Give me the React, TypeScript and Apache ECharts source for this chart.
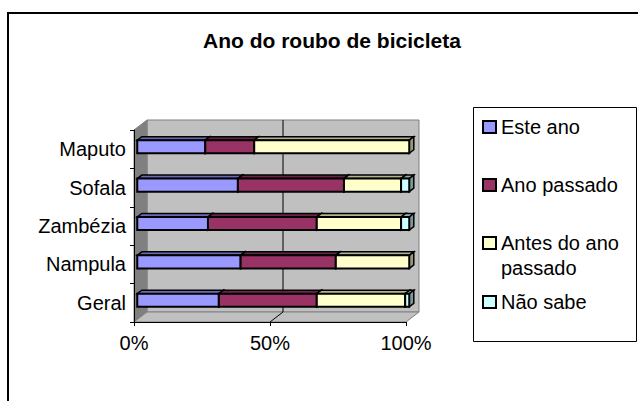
import React, { useEffect, useRef } from "react";
import * as echarts from "echarts";

const categories = ["Maputo", "Sofala", "Zambézia", "Nampula", "Geral"];
const seriesNames = ["Este ano", "Ano passado", "Antes do ano passado", "Não sabe"];
const esteAno = [25, 37, 26, 38, 30];
const anoPassado = [18, 39, 40, 35, 36];
const antesDoAnoPassado = [57, 21, 31, 27, 32.5];
const naoSabe = [0, 3, 3, 0, 1.5];
const xTicks = [0, 50, 100];

const seriesValues = [esteAno, anoPassado, antesDoAnoPassado, naoSabe];
const colors = ["#9999FF", "#993366", "#FFFFCC", "#CCFFFF"];
const FONT = "'Liberation Sans', Arial, sans-serif";

function shade(hex: string, f: number) {
  const n = parseInt(hex.slice(1), 16);
  const r = Math.round(((n >> 16) & 255) * f);
  const g = Math.round(((n >> 8) & 255) * f);
  const b = Math.round((n & 255) * f);
  return `rgb(${r},${g},${b})`;
}

const DX = 13;
const DY = -10;

export default function App() {
  const ref = useRef<HTMLDivElement>(null);
  useEffect(() => {
    document.body.style.margin = "0";
    const chart = echarts.init(ref.current!, null, { renderer: "svg" });

    const totals = categories.map((_, ci) =>
      seriesValues.reduce((s, arr) => s + arr[ci], 0)
    );
    const cum = categories.map(() => 0);
    const barSeries = seriesValues.map((vals, si) => {
      const data: number[][] = [];
      vals.forEach((v, ci) => {
        const pct = (v / totals[ci]) * 100;
        const s = cum[ci];
        cum[ci] += pct;
        if (pct > 0) data.push([s, cum[ci], ci]);
      });
      const color = colors[si];
      return {
        type: "custom",
        name: seriesNames[si],
        coordinateSystem: "cartesian2d",
        encode: { x: [0, 1], y: 2 },
        data,
        z: 3,
        silent: true,
        itemStyle: { color, borderColor: "#000", borderWidth: 1.5 },
        renderItem: (params: any, api: any) => {
          const s = api.value(0);
          const e = api.value(1);
          const ci = api.value(2);
          const a = api.coord([s, ci]);
          const b = api.coord([e, ci]);
          const band = api.size([0, 1])[1];
          const h = band * 0.34;
          const fx = 0.25 * DX, fy = 0.25 * DY;
          const bx = 0.35 * DX, by = 0.35 * DY;
          const x0 = a[0] + fx, x1 = b[0] + fx;
          const yc = a[1] + fy;
          const yt = yc - h / 2, yb = yc + h / 2;
          return {
            type: "group",
            children: [
              {
                type: "polygon",
                shape: { points: [[x0, yt], [x1, yt], [x1 + bx, yt + by], [x0 + bx, yt + by]] },
                style: { fill: shade(color, 0.7), stroke: "#000", lineWidth: 1.5 },
              },
              {
                type: "polygon",
                shape: { points: [[x1, yt], [x1 + bx, yt + by], [x1 + bx, yb + by], [x1, yb]] },
                style: { fill: shade(color, 0.6), stroke: "#000", lineWidth: 1.5 },
              },
              {
                type: "rect",
                shape: { x: x0, y: yt, width: x1 - x0, height: h },
                style: { fill: color, stroke: "#000", lineWidth: 2 },
              },
            ],
          };
        },
      };
    });

    const wallSeries = {
      type: "custom",
      name: "walls",
      coordinateSystem: "cartesian2d",
      encode: { x: 0, y: 1 },
      data: [[0, 0]],
      z: 1,
      silent: true,
      renderItem: (params: any, api: any) => {
        const cs = params.coordSys;
        const L = cs.x, T = cs.y, R = cs.x + cs.width, B = cs.y + cs.height;
        const children: any[] = [
          {
            type: "rect",
            shape: { x: L + DX, y: T + DY, width: cs.width, height: cs.height },
            style: { fill: "#C0C0C0", stroke: "#808080", lineWidth: 1 },
          },
          {
            type: "polygon",
            shape: { points: [[L, T], [L + DX, T + DY], [L + DX, B + DY], [L, B]] },
            style: { fill: "#808080", stroke: "#808080", lineWidth: 1 },
          },
          {
            type: "polygon",
            shape: { points: [[L, B], [L + DX, B + DY], [R + DX, B + DY], [R, B]] },
            style: { fill: "#C0C0C0", stroke: "#808080", lineWidth: 1 },
          },
        ];
        xTicks.slice(1, -1).forEach((t) => {
          const x = api.coord([t, 0])[0];
          children.push({
            type: "line",
            shape: { x1: x + DX, y1: T + DY, x2: x + DX, y2: B + DY },
            style: { stroke: "#000", lineWidth: 1 },
          });
          children.push({
            type: "line",
            shape: { x1: x, y1: B, x2: x + DX, y2: B + DY },
            style: { stroke: "#000", lineWidth: 1 },
          });
        });
        return { type: "group", children };
      },
    };

    const legendCenters = [127, 185, 243, 302];
    const legends = seriesNames.map((n, i) => {
      const multi = n === "Antes do ano passado";
      return {
        data: [n],
        orient: "vertical",
        left: 482,
        top: multi ? legendCenters[i] - 37.5 : legendCenters[i] - 12.5,
        padding: 0,
        itemWidth: 13,
        itemHeight: 12,
        icon: "rect",
        selectedMode: false,
        itemStyle: { borderColor: "#000", borderWidth: 2 },
        formatter: (name: string) =>
          name === "Antes do ano passado" ? " \nAntes do ano\npassado" : name,
        textStyle: {
          fontSize: 20,
          color: "#000",
          fontFamily: FONT,
          lineHeight: 25,
        },
      };
    });

    chart.setOption({
      animation: false,
      backgroundColor: "#fff",
      title: {
        text: "Ano do roubo de bicicleta",
        left: 203,
        top: 30,
        padding: 0,
        textStyle: { fontSize: 21, fontWeight: "bold", color: "#000", fontFamily: FONT },
      },
      graphic: [
        {
          type: "rect",
          z: -10,
          shape: { x: 8, y: 13, width: 700, height: 500 },
          style: { fill: "none", stroke: "#000", lineWidth: 2 },
        },
        {
          type: "rect",
          z: -10,
          shape: { x: 473.5, y: 107.5, width: 163, height: 234 },
          style: { fill: "none", stroke: "#000", lineWidth: 1 },
        },
      ],
      legend: legends,
      grid: { left: 134, right: 232, top: 130, bottom: 79 },
      xAxis: {
        type: "value",
        min: 0,
        max: 100,
        interval: 50,
        z: 5,
        axisLine: { show: true, lineStyle: { color: "#000", width: 1 } },
        axisTick: { show: true, length: 4, lineStyle: { color: "#000" } },
        splitLine: { show: false },
        axisLabel: {
          formatter: "{value}%",
          fontSize: 20,
          color: "#000",
          fontFamily: FONT,
          margin: 11,
        },
      },
      yAxis: {
        type: "category",
        data: categories,
        inverse: true,
        z: 5,
        axisLine: { show: true, lineStyle: { color: "#000", width: 1 } },
        axisTick: { show: true, length: 4, lineStyle: { color: "#000" } },
        splitLine: { show: false },
        axisLabel: { fontSize: 20, color: "#000", fontFamily: FONT, margin: 8 },
      },
      series: [wallSeries, ...barSeries],
    });
    return () => chart.dispose();
  }, []);
  return <div ref={ref} style={{ width: 638, height: 401 }} />;
}
